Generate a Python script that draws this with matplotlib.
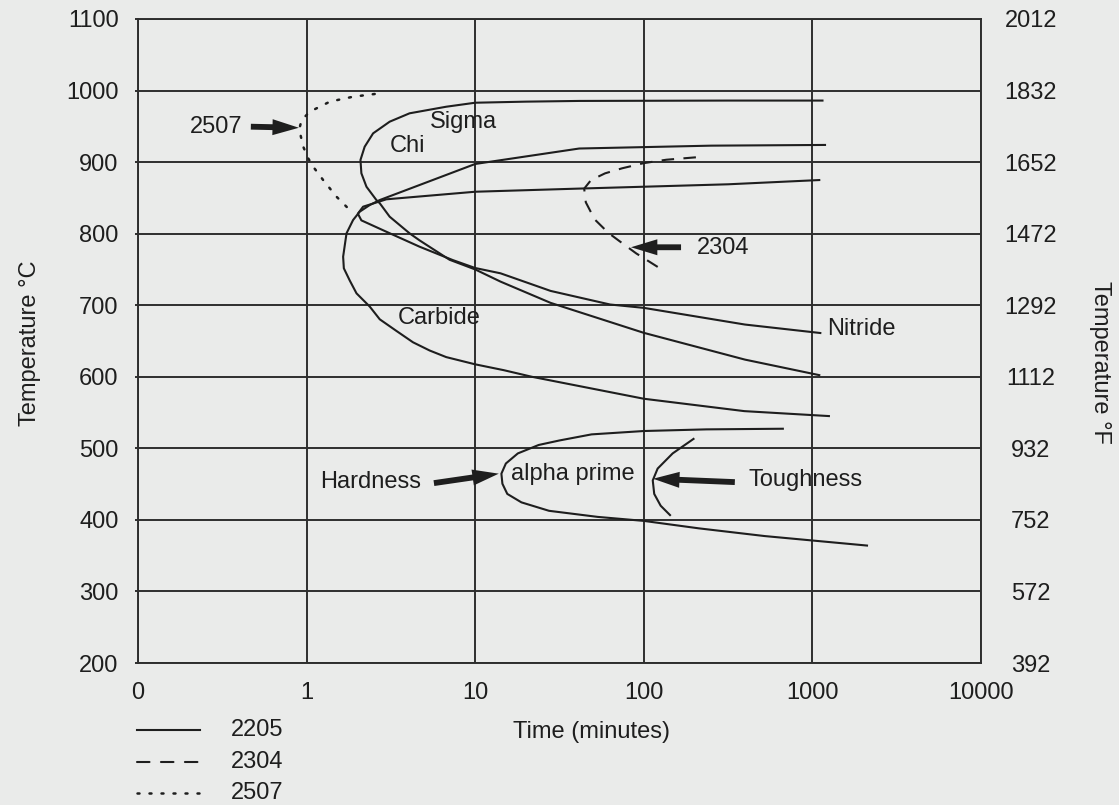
import matplotlib
matplotlib.use("Agg")
import matplotlib.pyplot as plt
from matplotlib.lines import Line2D

# ---------------- data: time (minutes), temperature (°C) ----------------
sigma_t = [1164, 316, 41.4, 19.95, 10, 6.73, 4.08, 3.11, 2.48, 2.21, 2.087,
           2.113, 2.265, 2.594, 2.716, 3.11, 4.08, 4.68, 7.05, 10, 14.13, 28.0,
           100, 398, 1114]
sigma_T = [986, 986, 985.5, 984.5, 983, 977.4, 968.2, 956.5, 940.2, 921.5, 903,
           884.4, 865.6, 847, 842.5, 823.7, 800.5, 790.6, 763.5, 750, 733, 703.3,
           661.4, 624, 602]

nitride_t = [1114, 316, 41.4, 10, 2.972, 2.163, 2.014, 2.113, 2.972, 4.677,
             7.345, 10, 14.13, 28.0, 63.1, 100, 398, 1130]
nitride_T = [875, 869, 863, 858.6, 848, 837.7, 828, 818.6, 802.7, 781.8,
             763.2, 752, 744.6, 720, 701, 696.3, 673, 661]

carbide_t = [1271, 394.5, 100, 21.68, 14.79, 10, 6.73, 5.37, 4.276, 3.404,
             2.716, 2.371, 1.977, 1.803, 1.663, 1.647, 1.685, 1.725, 1.887,
             2.065, 2.369, 2.716, 4.677, 10, 41.4, 251, 1205]
carbide_T = [545, 552, 569.3, 600, 609.2, 617.4, 627.5, 636.7, 648.2, 664.2,
             680.3, 698, 716.6, 734.5, 751.6, 767.8, 784, 800.5, 819.1,
             830.7, 840, 847, 868, 897.4, 919, 923, 924]

alpha_t = [677.5, 235, 100, 49, 31.6, 23.8, 17.9, 15.2, 14.3, 14.5, 15.5,
           18.8, 27.4, 53.2, 100, 211.8, 521, 1000, 2138]
alpha_T = [527.4, 526.5, 524.2, 519.5, 511, 504.7, 492.9, 478.8, 464.6, 450.5,
           436.3, 424.5, 412.7, 404.2, 398.6, 388.2, 377.4, 371.2, 364]

tough_t = [199.5, 148.3, 120.8, 113, 115.3, 125.9, 144.5]
tough_T = [514, 492.9, 471.7, 455.2, 436.3, 419.8, 405.7]

g2304_t = [203.7, 135.8, 100, 74.5, 58.9, 48.6, 44.3, 45.3, 51.1, 61.7, 74.5,
           90.2, 121.3]
g2304_T = [906.7, 903.3, 898.6, 891.4, 884.3, 874.8, 862.9, 843.8, 820, 801,
           786.7, 772.4, 753.3]

g2507_t = [2.535, 1.888, 1.374, 1.046, 0.934, 0.904, 0.955, 1.022, 1.094,
           1.253, 1.504, 1.845]
g2507_T = [995.2, 991.4, 984.5, 970.5, 958.8, 945.8, 921.6, 905.3, 893.6,
           875, 851.7, 830.7]

x_ticks = [0.1, 1, 10, 100, 1000, 10000]
x_labels = ["0", "1", "10", "100", "1000", "10000"]
c_ticks = [200, 300, 400, 500, 600, 700, 800, 900, 1000, 1100]
f_labels = ["392", "572", "752", "932", "1112", "1292", "1472", "1652", "1832", "2012"]
legend_names = ["2205", "2304", "2507"]

# ---------------- style ----------------
BG = "#eaebea"
INK = "#1e1e1e"
GRID = "#2e2e2e"
FS = 17
plt.rcParams["font.family"] = ["Liberation Sans", "DejaVu Sans"]

W, H = 1119, 805
fig = plt.figure(figsize=(W / 100, H / 100), dpi=100, facecolor=BG)
L, R, T, B = 138, 981, 19, 663
ax = fig.add_axes([L / W, 1 - B / H, (R - L) / W, (B - T) / H], facecolor=BG)
ax.set_xscale("log")
ax.set_xlim(0.1, 10000)
ax.set_ylim(200, 1100)
ax.set_xticks(x_ticks)
ax.set_xticklabels(x_labels)
ax.minorticks_off()
ax.set_yticks(c_ticks)
ax.grid(True, color=GRID, lw=1.4)
for s in ax.spines.values():
    s.set_color(GRID)
    s.set_linewidth(1.4)
ax.tick_params(axis="x", length=0, pad=14, labelsize=FS, colors=INK)
ax.tick_params(axis="y", length=2, width=1.4, color=GRID, pad=12, labelsize=FS,
               labelcolor=INK)

ax2 = ax.twinx()
ax2.set_ylim(200, 1100)
ax2.set_yticks(c_ticks)
ax2.set_yticklabels(f_labels)
ax2.tick_params(axis="y", length=0, pad=36, labelsize=FS, labelcolor=INK)
for lab in ax2.get_yticklabels():
    lab.set_horizontalalignment("center")
for s in ax2.spines.values():
    s.set_visible(False)

lw = 1.5
solid = dict(color=INK, lw=lw, solid_joinstyle="round", solid_capstyle="butt")
ax.plot(sigma_t, sigma_T, **solid)
ax.plot(nitride_t, nitride_T, **solid)
ax.plot(carbide_t, carbide_T, **solid)
ax.plot(alpha_t, alpha_T, **solid)
ax.plot(tough_t, tough_T, **solid)
ax.plot(g2304_t, g2304_T, color=INK, lw=lw, linestyle=(0, (6, 4.5)))
ax.plot(g2507_t, g2507_T, color=INK, lw=1.8, linestyle=(0, (0.8, 4.0)),
        dash_capstyle="round")

# labels inside plot
txt = dict(fontsize=FS, color=INK, va="center")
ax.text(5.37, 956.5, "Sigma", ha="left", **txt)
ax.text(3.11, 922.5, "Chi", ha="left", **txt)
ax.text(3.48, 682.6, "Carbide", ha="left", **txt)
ax.text(1230, 667, "Nitride", ha="left", **txt)
ax.text(16.3, 464, "alpha prime", ha="left", **txt)
ax.text(4.79, 452.4, "Hardness", ha="right", **txt)
ax.text(416, 455.2, "Toughness", ha="left", **txt)
ax.text(207.5, 779.5, "2304", ha="left", **txt)
ax.text(0.415, 949.5, "2507", ha="right", **txt)

arrow = dict(arrowstyle="simple,head_length=1.9,head_width=1.15,tail_width=0.42",
             mutation_scale=10, color=INK, shrinkA=0, shrinkB=0, lw=0)
ax.annotate("", xy=(0.90, 948), xytext=(0.467, 949.5), arrowprops=arrow)
ax.annotate("", xy=(83.9, 781), xytext=(166.3, 781), arrowprops=arrow)
ax.annotate("", xy=(13.8, 464.6), xytext=(5.69, 451.4), arrowprops=arrow)
ax.annotate("", xy=(113.5, 457.5), xytext=(346.7, 452.8), arrowprops=arrow)

# axis titles
fig.text(30 / W, 1 - 343 / H, "Temperature °C", rotation=90, fontsize=FS,
         color=INK, ha="center", va="center")
fig.text(1100 / W, 1 - 362 / H, "Temperature °F", rotation=270, fontsize=FS,
         color=INK, ha="center", va="center")
fig.text(592 / W, 1 - 732 / H, "Time (minutes)", fontsize=FS, color=INK,
         ha="center", va="center")

# legend (drawn manually below the axes)
styles = ["-", (0, (6, 5.5)), (0, (0.8, 4.0))]
rows = [730, 761.7, 793.3]
for name, ls, yy in zip(legend_names, styles, rows):
    fig.add_artist(Line2D([137 / W, 200 / W], [1 - yy / H, 1 - yy / H],
                          color=INK, lw=1.5 if ls != styles[2] else 1.8,
                          linestyle=ls, dash_capstyle="round"))
    fig.text(231 / W, 1 - yy / H, name, fontsize=FS, color=INK,
             ha="left", va="center")

fig.savefig("out.png", dpi=100, facecolor=BG)
